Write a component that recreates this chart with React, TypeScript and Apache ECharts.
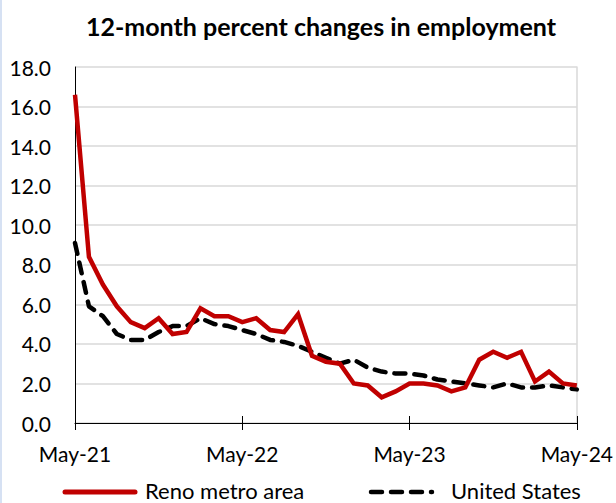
import React, { useEffect, useRef } from "react";
import * as echarts from "echarts";

const months: string[] = [
  "May-21", "Jun-21", "Jul-21", "Aug-21", "Sep-21", "Oct-21", "Nov-21", "Dec-21",
  "Jan-22", "Feb-22", "Mar-22", "Apr-22", "May-22", "Jun-22", "Jul-22", "Aug-22",
  "Sep-22", "Oct-22", "Nov-22", "Dec-22", "Jan-23", "Feb-23", "Mar-23", "Apr-23",
  "May-23", "Jun-23", "Jul-23", "Aug-23", "Sep-23", "Oct-23", "Nov-23", "Dec-23",
  "Jan-24", "Feb-24", "Mar-24", "Apr-24", "May-24",
];

const reno: number[] = [
  16.6, 8.4, 7.0, 5.9, 5.1, 4.8, 5.3, 4.5, 4.6, 5.8, 5.4, 5.4, 5.1, 5.3, 4.7, 4.6,
  5.5, 3.4, 3.1, 3.0, 2.0, 1.9, 1.3, 1.6, 2.0, 2.0, 1.9, 1.6, 1.8, 3.2, 3.6, 3.3,
  3.6, 2.1, 2.6, 2.0, 1.9,
];

const us: number[] = [
  9.1, 5.9, 5.4, 4.5, 4.2, 4.2, 4.6, 4.9, 4.9, 5.3, 5.0, 4.9, 4.7, 4.5, 4.2, 4.1,
  3.9, 3.6, 3.3, 3.0, 3.2, 2.8, 2.6, 2.5, 2.5, 2.4, 2.2, 2.1, 2.0, 1.9, 1.8, 2.0,
  1.8, 1.8, 1.9, 1.8, 1.7,
];

const titleText = "12-month percent changes in employment";
const renoName = "Reno metro area";
const usName = "United States";

const FONT = "Lato, 'Open Sans', sans-serif";

export default function App() {
  const ref = useRef<HTMLDivElement>(null);
  useEffect(() => {
    if (!ref.current) return;
    const chart = echarts.init(ref.current, null, { renderer: "svg" });
    chart.setOption({
      animation: false,
      backgroundColor: "#ffffff",
      title: {
        text: titleText,
        left: 316,
        textAlign: "center",
        top: 8,
        textStyle: { fontFamily: FONT, fontWeight: "bold", fontSize: 25, color: "#000" },
      },
      grid: { left: 75, right: 39, top: 67, bottom: 80 },
      xAxis: [
        {
          type: "category",
          data: months,
          boundaryGap: false,
          axisLine: { lineStyle: { color: "#000", width: 1 } },
          axisTick: { show: true, interval: 11, length: 7, lineStyle: { color: "#000" } },
          axisLabel: {
            interval: 11,
            margin: 20,
            color: "#000",
            fontFamily: FONT,
            fontSize: 21,
          },
          splitLine: { show: false },
        },
        {
          type: "category",
          data: months,
          boundaryGap: false,
          position: "bottom",
          axisLine: { show: false },
          axisTick: { show: true, inside: true, interval: 11, length: 7, lineStyle: { color: "#000" } },
          axisLabel: { show: false },
          splitLine: { show: false },
        },
      ],
      yAxis: [
        {
          type: "value",
          min: 0,
          max: 18,
          interval: 2,
          axisLine: { show: true, lineStyle: { color: "#000", width: 1 } },
          axisTick: { show: false },
          axisLabel: {
            formatter: (v: number) => v.toFixed(1),
            margin: 24,
            color: "#000",
            fontFamily: FONT,
            fontSize: 21,
          },
          splitLine: { show: true, lineStyle: { color: "#d9d9d9", width: 1.5 } },
        },
        {
          type: "value",
          min: 0,
          max: 18,
          interval: 2,
          position: "right",
          axisLine: { show: true, lineStyle: { color: "#d9d9d9", width: 1.5 } },
          axisTick: { show: false },
          axisLabel: { show: false },
          splitLine: { show: false },
        },
      ],
      series: [
        {
          name: usName,
          type: "line",
          data: us,
          showSymbol: false,
          z: 2,
          lineStyle: { color: "#000", width: 4.5, type: [11, 9], cap: "round" },
        },
        {
          name: renoName,
          type: "line",
          data: reno,
          showSymbol: false,
          z: 3,
          lineStyle: { color: "#C00000", width: 4.5, join: "miter" },
        },
      ],
      graphic: [
        { type: "rect", left: 0, top: 0, shape: { x: 0, y: 0, width: 2, height: 503 }, style: { fill: "#d6e1f3" } },
        {
          type: "line",
          shape: { x1: 65, y1: 492, x2: 135, y2: 492 },
          style: { stroke: "#C00000", lineWidth: 5, lineCap: "round" },
        },
        {
          type: "text",
          x: 145,
          y: 490,
          style: { text: renoName, fontFamily: FONT, fontSize: 22, fill: "#000", verticalAlign: "middle", textAlign: "left" },
        },
        {
          type: "line",
          shape: { x1: 371, y1: 492, x2: 432, y2: 492 },
          style: { stroke: "#000", lineWidth: 4.5, lineCap: "round", lineDash: [11, 9] },
        },
        {
          type: "text",
          x: 451,
          y: 490,
          style: { text: usName, fontFamily: FONT, fontSize: 22, fill: "#000", verticalAlign: "middle", textAlign: "left" },
        },
      ],
    });
    return () => chart.dispose();
  }, []);
  return (
    <div
      ref={ref}
      style={{ position: "absolute", left: 0, top: 0, width: 616, height: 503 }}
    />
  );
}
